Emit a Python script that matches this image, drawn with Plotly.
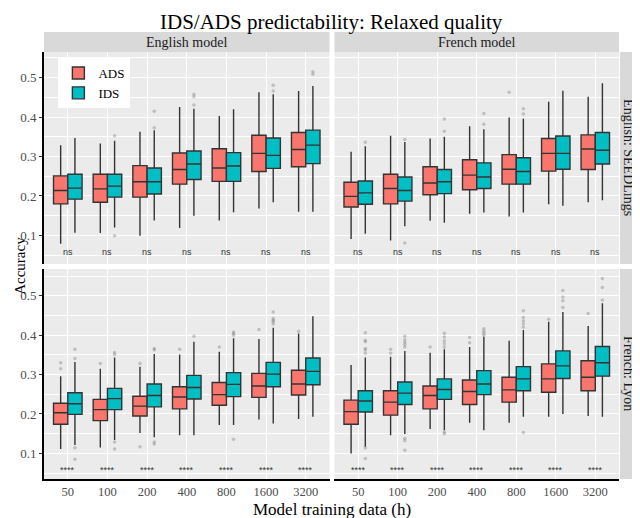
import plotly.graph_objects as go
from plotly.subplots import make_subplots

categories = ["50", "100", "200", "400", "800", "1600", "3200"]

# English model / English: SEEDLings
en_seed_ads_lf = [0.079, 0.106, 0.099, 0.119, 0.138, 0.168, 0.160]
en_seed_ads_q1 = [0.180, 0.184, 0.197, 0.230, 0.237, 0.262, 0.274]
en_seed_ads_med = [0.214, 0.218, 0.236, 0.267, 0.271, 0.308, 0.318]
en_seed_ads_q3 = [0.251, 0.255, 0.277, 0.309, 0.320, 0.354, 0.361]
en_seed_ads_uf = [0.329, 0.333, 0.363, 0.426, 0.403, 0.463, 0.466]
en_seed_ads_out = [[], [], [], [], [], [], []]
en_seed_ids_lf = [0.107, 0.120, 0.138, 0.150, 0.159, 0.184, 0.160]
en_seed_ids_q1 = [0.192, 0.197, 0.205, 0.242, 0.237, 0.270, 0.282]
en_seed_ids_med = [0.220, 0.225, 0.236, 0.281, 0.276, 0.303, 0.329]
en_seed_ids_q3 = [0.255, 0.255, 0.271, 0.314, 0.310, 0.347, 0.367]
en_seed_ids_uf = [0.347, 0.340, 0.367, 0.421, 0.420, 0.458, 0.479]
en_seed_ids_out = [[], [0.099, 0.353], [0.373, 0.415], [0.431, 0.452, 0.458], [], [0.466, 0.481], [0.509, 0.515]]

# French model / English: SEEDLings
fr_seed_ads_lf = [0.091, 0.087, 0.137, 0.155, 0.148, 0.179, 0.184]
fr_seed_ads_q1 = [0.172, 0.180, 0.203, 0.216, 0.230, 0.263, 0.267]
fr_seed_ads_med = [0.199, 0.219, 0.233, 0.253, 0.268, 0.308, 0.319]
fr_seed_ads_q3 = [0.235, 0.255, 0.274, 0.292, 0.305, 0.346, 0.355]
fr_seed_ads_uf = [0.312, 0.353, 0.346, 0.377, 0.399, 0.439, 0.452]
fr_seed_ads_out = [[], [], [], [], [0.463], [], []]
fr_seed_ids_lf = [0.104, 0.123, 0.132, 0.158, 0.158, 0.175, 0.189]
fr_seed_ids_q1 = [0.179, 0.187, 0.206, 0.219, 0.230, 0.268, 0.281]
fr_seed_ids_med = [0.208, 0.214, 0.236, 0.248, 0.262, 0.308, 0.316]
fr_seed_ids_q3 = [0.238, 0.248, 0.267, 0.284, 0.297, 0.352, 0.361]
fr_seed_ids_uf = [0.326, 0.337, 0.350, 0.369, 0.396, 0.467, 0.486]
fr_seed_ids_out = [[0.336], [0.081, 0.343], [0.364, 0.395], [0.382, 0.409], [0.408, 0.421], [], []]

# English model / French: Lyon
en_lyon_ads_lf = [0.111, 0.115, 0.152, 0.146, 0.172, 0.186, 0.187]
en_lyon_ads_q1 = [0.174, 0.183, 0.195, 0.213, 0.222, 0.242, 0.248]
en_lyon_ads_med = [0.203, 0.211, 0.220, 0.243, 0.249, 0.271, 0.276]
en_lyon_ads_q3 = [0.227, 0.237, 0.245, 0.269, 0.280, 0.303, 0.311]
en_lyon_ads_uf = [0.296, 0.315, 0.320, 0.351, 0.358, 0.390, 0.404]
en_lyon_ads_out = [[0.315, 0.330], [0.328], [0.117, 0.328], [0.364], [0.370], [0.414], [0.410]]
en_lyon_ids_lf = [0.121, 0.134, 0.141, 0.146, 0.172, 0.176, 0.193]
en_lyon_ids_q1 = [0.199, 0.211, 0.218, 0.238, 0.244, 0.269, 0.274]
en_lyon_ids_med = [0.226, 0.239, 0.247, 0.267, 0.275, 0.301, 0.308]
en_lyon_ids_q3 = [0.254, 0.265, 0.276, 0.298, 0.305, 0.331, 0.342]
en_lyon_ids_uf = [0.332, 0.343, 0.352, 0.383, 0.392, 0.419, 0.448]
en_lyon_ids_out = [[0.085, 0.114, 0.341, 0.364], [0.111, 0.129, 0.351, 0.356],
                   [0.124, 0.129, 0.362, 0.366], [0.397], [0.136, 0.400, 0.404, 0.408],
                   [0.428, 0.434, 0.438, 0.442, 0.459], []]

# French model / French: Lyon
fr_lyon_ads_lf = [0.100, 0.146, 0.162, 0.178, 0.178, 0.193, 0.195]
fr_lyon_ads_q1 = [0.174, 0.197, 0.213, 0.224, 0.230, 0.255, 0.259]
fr_lyon_ads_med = [0.206, 0.230, 0.247, 0.257, 0.261, 0.289, 0.293]
fr_lyon_ads_q3 = [0.235, 0.259, 0.271, 0.286, 0.293, 0.327, 0.335]
fr_lyon_ads_uf = [0.324, 0.345, 0.355, 0.370, 0.386, 0.434, 0.423]
fr_lyon_ads_out = [[], [0.354, 0.364], [0.370], [0.381, 0.394], [], [0.440], [0.455]]
fr_lyon_ids_lf = [0.117, 0.149, 0.159, 0.159, 0.193, 0.200, 0.193]
fr_lyon_ids_q1 = [0.205, 0.224, 0.237, 0.249, 0.259, 0.290, 0.296]
fr_lyon_ids_med = [0.233, 0.253, 0.262, 0.276, 0.289, 0.322, 0.330]
fr_lyon_ids_q3 = [0.259, 0.281, 0.289, 0.310, 0.320, 0.360, 0.371]
fr_lyon_ids_uf = [0.343, 0.360, 0.364, 0.396, 0.413, 0.459, 0.481]
fr_lyon_ids_out = [[0.087, 0.114, 0.354, 0.362, 0.366, 0.383, 0.387, 0.406],
                   [0.108, 0.132, 0.138, 0.370, 0.376, 0.382, 0.388, 0.397],
                   [0.150, 0.154, 0.370, 0.378, 0.386, 0.395, 0.405],
                   [0.400, 0.405, 0.410, 0.416],
                   [0.153, 0.420, 0.428, 0.436, 0.445, 0.462],
                   [0.470, 0.487, 0.497, 0.513], [0.489, 0.521, 0.544]]

seed_signif = ["ns", "ns", "ns", "ns", "ns", "ns", "ns"]
lyon_signif = ["****", "****", "****", "****", "****", "****", "****"]

col_labels = ["English model", "French model"]
row_labels = ["English: SEEDLings", "French: Lyon"]

ADS_COLOR = "#F8766D"
IDS_COLOR = "#00BFC4"
SERIF = "Liberation Serif"

panels = [
    (1, 1, "ADS", en_seed_ads_lf, en_seed_ads_q1, en_seed_ads_med, en_seed_ads_q3, en_seed_ads_uf, en_seed_ads_out),
    (1, 1, "IDS", en_seed_ids_lf, en_seed_ids_q1, en_seed_ids_med, en_seed_ids_q3, en_seed_ids_uf, en_seed_ids_out),
    (1, 2, "ADS", fr_seed_ads_lf, fr_seed_ads_q1, fr_seed_ads_med, fr_seed_ads_q3, fr_seed_ads_uf, fr_seed_ads_out),
    (1, 2, "IDS", fr_seed_ids_lf, fr_seed_ids_q1, fr_seed_ids_med, fr_seed_ids_q3, fr_seed_ids_uf, fr_seed_ids_out),
    (2, 1, "ADS", en_lyon_ads_lf, en_lyon_ads_q1, en_lyon_ads_med, en_lyon_ads_q3, en_lyon_ads_uf, en_lyon_ads_out),
    (2, 1, "IDS", en_lyon_ids_lf, en_lyon_ids_q1, en_lyon_ids_med, en_lyon_ids_q3, en_lyon_ids_uf, en_lyon_ids_out),
    (2, 2, "ADS", fr_lyon_ads_lf, fr_lyon_ads_q1, fr_lyon_ads_med, fr_lyon_ads_q3, fr_lyon_ads_uf, fr_lyon_ads_out),
    (2, 2, "IDS", fr_lyon_ids_lf, fr_lyon_ids_q1, fr_lyon_ids_med, fr_lyon_ids_q3, fr_lyon_ids_uf, fr_lyon_ids_out),
]

fig = make_subplots(rows=2, cols=2)

for row, col, name, lf, q1, med, q3, uf, out in panels:
    color = ADS_COLOR if name == "ADS" else IDS_COLOR
    # an empty box gets [None] so plotly still reads y as per-box sample lists
    pts = [o if o else [None] for o in out]
    fig.add_trace(go.Box(
        x=categories, y=pts,
        q1=q1, median=med, q3=q3, lowerfence=lf, upperfence=uf,
        name=name, legendgroup=name, offsetgroup=name,
        showlegend=(row == 1 and col == 1),
        boxpoints="outliers", jitter=0, pointpos=0,
        fillcolor=color,
        line=dict(color="#333333", width=1.4),
        marker=dict(color="rgba(110,110,110,0.35)", size=3.5),
        whiskerwidth=0,
    ), row=row, col=col)

# page has an 8px body margin, so the figure is 632x510 and shifted accordingly
x_dom = [[0, 0.4966], [0.5052, 1]]
y_dom = [[0.5035, 1], [0, 0.4918]]
y_rng = [[0.0275, 0.5652], [0.035, 0.5678]]

fig.update_xaxes(type="category", range=[-0.6, 6.6], showgrid=True,
                 gridcolor="white", gridwidth=1.1, zeroline=False,
                 tickfont=dict(family=SERIF, size=12.5, color="#4D4D4D"), ticks="")
fig.update_yaxes(dtick=0.1, tick0=0, showgrid=True,
                 gridcolor="white", gridwidth=1.1, zeroline=False,
                 minor=dict(dtick=0.05, tick0=0, showgrid=True, gridcolor="white", gridwidth=0.5),
                 tickfont=dict(family=SERIF, size=13, color="#4D4D4D"),
                 ticks="outside", ticklen=3, tickcolor="#333333")

for r in (1, 2):
    for c in (1, 2):
        fig.update_xaxes(domain=x_dom[c - 1], row=r, col=c,
                         showticklabels=(r == 2),
                         showline=(r == 2), linecolor="black", linewidth=2)
        fig.update_yaxes(domain=y_dom[r - 1], range=y_rng[r - 1], row=r, col=c,
                         showticklabels=(c == 1), ticks=("outside" if c == 1 else ""),
                         showline=(c == 1), linecolor="black", linewidth=2)

annotations = []
axis_ids = {(1, 1): ("x", "y"), (1, 2): ("x2", "y2"), (2, 1): ("x3", "y3"), (2, 2): ("x4", "y4")}
for (r, c), (xa, ya) in axis_ids.items():
    labels = seed_signif if r == 1 else lyon_signif
    # category positions by index: numeric-looking names would be read as serial numbers
    for i, lab in enumerate(labels):
        annotations.append(dict(x=i, y=0.058, xref=xa, yref=ya, text=lab, showarrow=False,
                                xanchor="center", yanchor="middle",
                                font=dict(family="Liberation Sans", size=9, color="#333333")))

shapes = []
for c in (1, 2):
    shapes.append(dict(type="rect", xref="paper", yref="paper", x0=x_dom[c - 1][0], x1=x_dom[c - 1][1],
                       y0=1.0, y1=1.0468, fillcolor="#D9D9D9", line=dict(width=0), layer="below"))
    annotations.append(dict(x=sum(x_dom[c - 1]) / 2, y=1.0234, xref="paper", yref="paper",
                            xanchor="center", yanchor="middle",
                            text=col_labels[c - 1], showarrow=False,
                            font=dict(family=SERIF, size=14, color="#1A1A1A")))
for r in (1, 2):
    shapes.append(dict(type="rect", xref="paper", yref="paper", x0=1.0017, x1=1.0328,
                       y0=y_dom[r - 1][0], y1=y_dom[r - 1][1], fillcolor="#D9D9D9",
                       line=dict(width=0), layer="below"))
    annotations.append(dict(x=1.0172, y=sum(y_dom[r - 1]) / 2, xref="paper", yref="paper",
                            xanchor="center", yanchor="middle",
                            text=row_labels[r - 1], showarrow=False, textangle=90,
                            font=dict(family=SERIF, size=14, color="#1A1A1A")))

annotations.append(dict(x=0.5, y=-0.0703, xref="paper", yref="paper",
                        xanchor="center", yanchor="middle",
                        text="Model training data (h)", showarrow=False,
                        font=dict(family=SERIF, size=17, color="black")))
annotations.append(dict(x=-0.043, y=0.5, xref="paper", yref="paper", textangle=-90,
                        xanchor="center", yanchor="middle",
                        text="Accuracy", showarrow=False,
                        font=dict(family=SERIF, size=15, color="black")))
annotations.append(dict(x=0.5, y=1.103, xref="paper", yref="paper",
                        xanchor="center", yanchor="top",
                        text="IDS/ADS predictability: Relaxed quality", showarrow=False,
                        font=dict(family=SERIF, size=21, color="black")))

fig.update_layout(
    width=632, height=510,
    margin=dict(l=31, r=21, t=44, b=39),
    paper_bgcolor="white", plot_bgcolor="#EBEBEB",
    boxmode="group", boxgap=0.28, boxgroupgap=0.0,
    legend=dict(x=0.025, y=0.986, xanchor="left", yanchor="top", bgcolor="white",
                font=dict(family=SERIF, size=13, color="black"), itemwidth=30,
                tracegroupgap=0),
    annotations=annotations, shapes=shapes,
)

fig.write_html("out.html")
